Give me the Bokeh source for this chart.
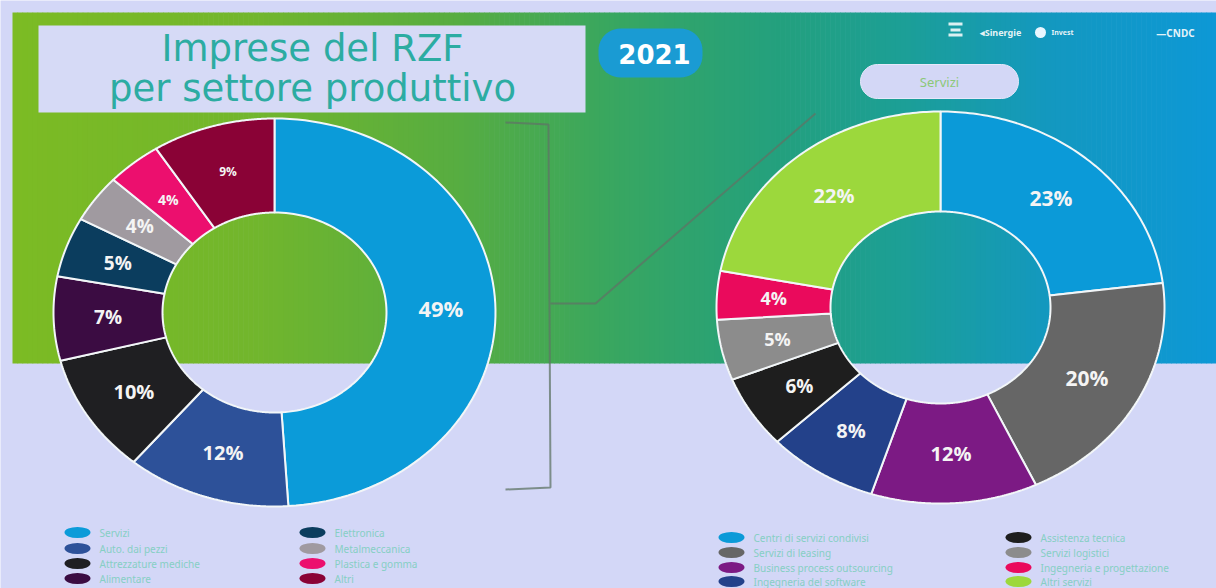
import numpy as np
from bokeh.plotting import figure
from bokeh.models import Range1d
from bokeh.embed import file_html
from bokeh.resources import INLINE
from bokeh.core.properties import value

# ---------------- data ----------------
left_labels = ["Servizi", "Auto. dai pezzi", "Attrezzature mediche", "Alimentare",
               "Elettronica", "Metalmeccanica", "Plastica e gomma", "Altri"]
left_values = [49, 12, 10, 7, 5, 4, 4, 9]

right_labels = ["Centri di servizi condivisi", "Servizi di leasing",
                "Business process outsourcing", "Ingegneria del software",
                "Assistenza tecnica", "Servizi logistici",
                "Ingegneria e progettazione", "Altri servizi"]
right_values = [23, 20, 12, 8, 6, 5, 4, 22]

title_lines = ["Imprese del RZF", "per settore produttivo"]
year_label = "2021"
sub_label = "Servizi"

# ---------------- styles ----------------
left_colors = ["#0b9bd9", "#2d5199", "#1f1f22", "#3b0c42",
               "#0b3d5e", "#a09aa0", "#ec0f6e", "#8a0236"]
right_colors = ["#0b9ad8", "#666666", "#7c1a84", "#23418a",
                "#1e1e1e", "#8c8c8c", "#ea0a5c", "#9cd83c"]
left_sizes = ["22px", "20px", "20px", "19px", "19px", "19px", "14px", "12px"]
right_sizes = ["21px", "21px", "20px", "20px", "19px", "18px", "18px", "20px"]

BG = "#d3d7f7"
W, H = 1216, 588

p = figure(width=W, height=H, x_range=Range1d(0, W), y_range=Range1d(H, 0),
           output_backend="svg", toolbar_location=None, min_border=0)
p.axis.visible = False
p.grid.visible = False
p.outline_line_color = None
p.background_fill_color = BG
p.border_fill_color = BG

# ---------------- gradient band ----------------
stops_x = [12, 250, 450, 600, 780, 900, 1050, 1216]
stops_c = ["#7cbb24", "#72b62c", "#58ad40", "#3aa75e", "#23a07e", "#1c9f96", "#1398c0", "#0d98d6"]


def hex2rgb(h):
    h = h.lstrip("#")
    return np.array([int(h[i:i + 2], 16) for i in (0, 2, 4)], dtype=float)


rgb = np.array([hex2rgb(c) for c in stops_c])
edges = np.linspace(12, 1216, 241)
lefts, rights, cols = edges[:-1], edges[1:], []
for a, b in zip(lefts, rights):
    m = (a + b) / 2
    c = [np.interp(m, stops_x, rgb[:, k]) for k in range(3)]
    cols.append("#%02x%02x%02x" % tuple(int(round(v)) for v in c))
p.quad(left=lefts, right=rights + 0.6, top=12, bottom=363, fill_color=cols, line_color=None)


def rounded_rect(x0, y0, x1, y1, r, n=12):
    xs, ys = [], []
    corners = [(x1 - r, y0 + r, -90, 0), (x1 - r, y1 - r, 0, 90),
               (x0 + r, y1 - r, 90, 180), (x0 + r, y0 + r, 180, 270)]
    for cx, cy, a0, a1 in corners:
        t = np.radians(np.linspace(a0, a1, n))
        xs += list(cx + r * np.cos(t))
        ys += list(cy + r * np.sin(t))
    return xs, ys


# ---------------- title box ----------------
p.quad(left=38, right=585, top=25, bottom=112, fill_color="#d6daf6", line_color=None)
p.text(x=[312, 312], y=[48, 88], text=title_lines, text_color="#2caca2",
       text_font=value("DejaVu Sans"), text_font_size="37px",
       text_align="center", text_baseline="middle")

# year pill
xs, ys = rounded_rect(598, 28, 702, 77, 22)
p.patch(xs, ys, fill_color="#1a9bd3", line_color=None)
p.text(x=[654], y=[53], text=[year_label], text_color="white",
       text_font=value("DejaVu Sans"), text_font_style="bold", text_font_size="26px",
       text_align="center", text_baseline="middle")

# Servizi pill
xs, ys = rounded_rect(860, 64, 1018, 98, 17)
p.patch(xs, ys, fill_color="#d3d7f6", line_color="#e6e8fa", line_width=1)
p.text(x=[939], y=[81], text=[sub_label], text_color="#8cc878",
       text_font=value("Noto Sans"), text_font_size="13px",
       text_align="center", text_baseline="middle")

# logos (top-right)
p.quad(left=[948, 950, 948], right=[962, 960, 962], top=[22, 28, 33], bottom=[25, 31, 36],
       fill_color="white", fill_alpha=0.85, line_color=None)
p.text(x=[1000, 1062, 1175], y=[32, 32, 32], text=["◂Sinergie", "Invest", "—CNDC"],
       text_color="white", text_alpha=0.9, text_font=value("Noto Sans"),
       text_font_size=["9px", "7px", "10px"], text_font_style="bold",
       text_align="center", text_baseline="middle")
p.scatter(x=[1040], y=[32], size=11, fill_color="#e8f6ff", line_color=None)

# bracket lines
p.line([505, 548, 550, 505], [122, 124, 487, 489], line_color="#5f7466", line_alpha=0.75, line_width=2)
p.line([550, 595, 815], [303, 303, 113], line_color="#5f7466", line_alpha=0.75, line_width=2)


# ---------------- donuts ----------------
def donut(values, colors, sizes, cx, cy, rxo, ryo, rxi, ryi):
    total = float(sum(values))
    fr = np.concatenate([[0.0], np.cumsum(values) / total])
    xs, ys = [], []
    for i in range(len(values)):
        t = np.linspace(fr[i], fr[i + 1], 90) * 2 * np.pi
        ox, oy = cx + rxo * np.sin(t), cy - ryo * np.cos(t)
        tr = t[::-1]
        ix, iy = cx + rxi * np.sin(tr), cy - ryi * np.cos(tr)
        xs.append(list(np.concatenate([ox, ix])))
        ys.append(list(np.concatenate([oy, iy])))
    p.patches(xs, ys, fill_color=colors, line_color="#f2f6f8", line_width=2)
    mid = (fr[:-1] + fr[1:]) / 2 * 2 * np.pi
    lx = cx + (rxo + rxi) / 2 * np.sin(mid)
    ly = cy - (ryo + ryi) / 2 * np.cos(mid)
    p.text(x=list(lx), y=list(ly), text=[f"{v}%" for v in values],
           text_color="#f4f4f4", text_font=value("Open Sans"), text_font_style="bold",
           text_font_size=sizes, text_align="center", text_baseline="middle")


donut(left_values, left_colors, left_sizes, 274, 312, 221, 194, 112, 100)
donut(right_values, right_colors, right_sizes, 940, 307, 224, 196, 110, 96)


# ---------------- legends ----------------
def legend(labels, colors, x_col, rows):
    lx, ly, tx, ty = [], [], [], []
    for i, lab in enumerate(labels):
        col, row = divmod(i, 4)
        lx.append(x_col[col])
        ly.append(rows[row])
        tx.append(x_col[col] + 22)
        ty.append(rows[row])
    p.ellipse(x=lx, y=ly, width=26, height=11, fill_color=colors, line_color=None)
    p.text(x=tx, y=ty, text=labels, text_color="#86cfc4",
           text_font=value("Noto Sans"), text_font_size="10px",
           text_align="left", text_baseline="middle")


legend(left_labels, left_colors, [77, 312], [532, 548, 563, 578])
legend(right_labels, right_colors, [731, 1018], [537, 552, 567, 581])

open("out.html", "w").write(file_html(p, INLINE))
